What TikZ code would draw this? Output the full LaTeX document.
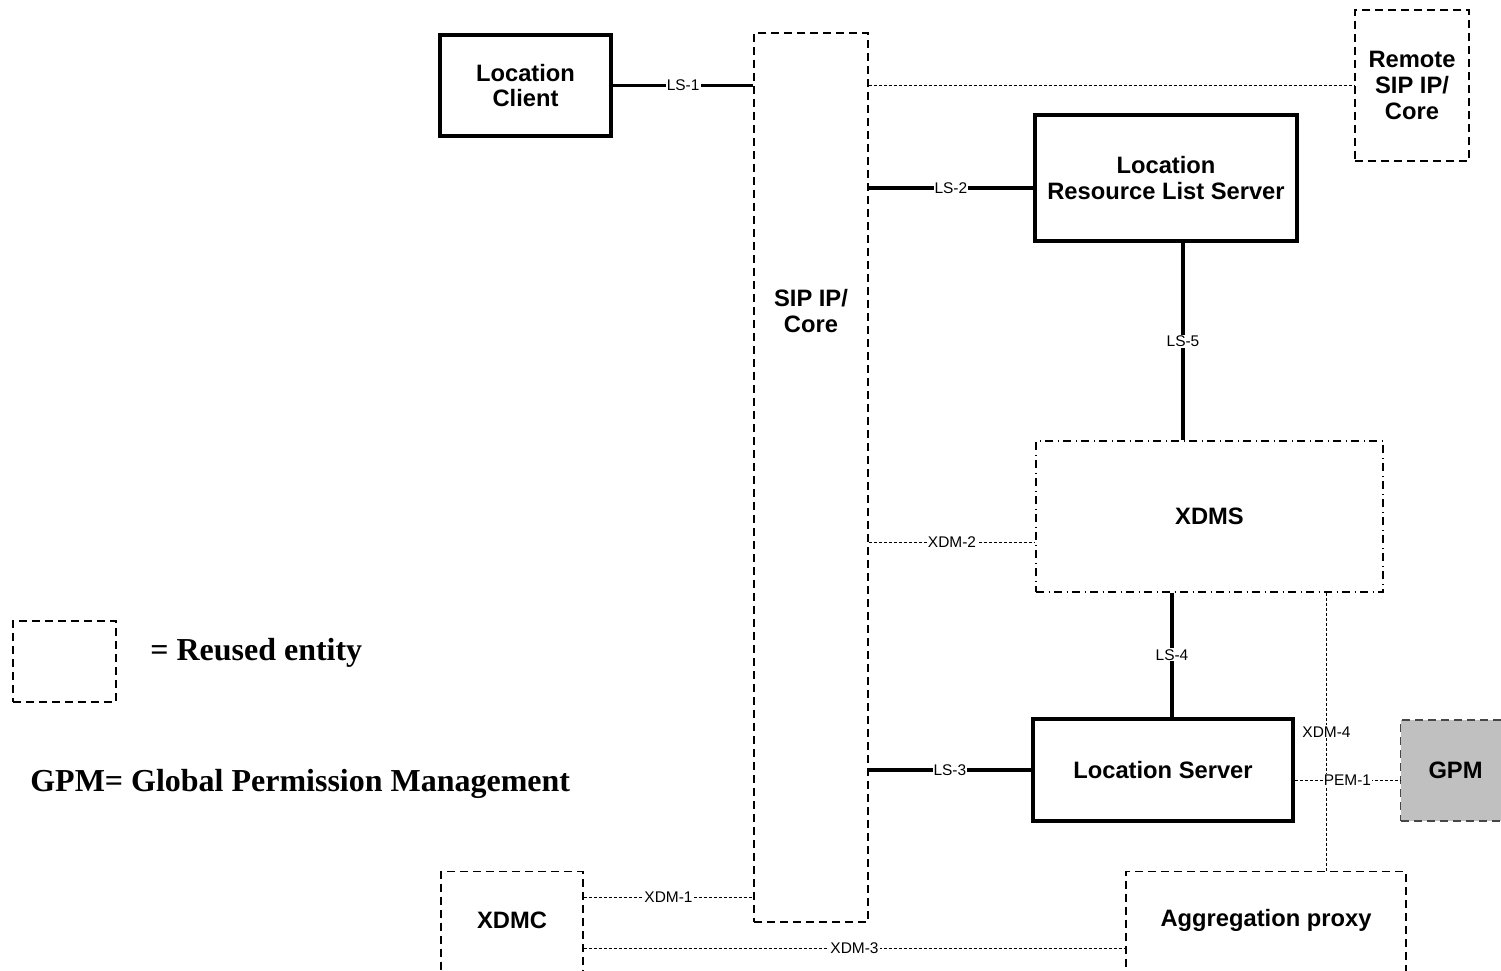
\documentclass[tikz,border=0pt]{standalone}
\usepackage{fontspec}
\setmainfont{Liberation Sans}
\newfontfamily\legendfont{Liberation Serif}
\usetikzlibrary{calc}
\definecolor{gpmGray}{RGB}{192,192,192}
\definecolor{edgeGray}{RGB}{70,70,70}

\begin{document}
\begin{tikzpicture}[
      x=0.2mm, y=-0.2mm,
      box/.style={rectangle, draw=black, line width=2pt, align=center, inner sep=0pt,
        font=\bfseries\fontsize{13.5}{14.7}\selectfont},
      reused/.style={box, line width=0.6pt, dash pattern=on 1.6mm off 1mm},
      xdmbox/.style={box, line width=0.6pt, dash pattern=on 1.6mm off 0.9mm on 0.2mm off 0.9mm},
      gpmbox/.style={reused, fill=gpmGray, draw=edgeGray},
      txt/.style={align=center, inner sep=0pt, font=\bfseries\fontsize{13.5}{14.7}\selectfont},
      link/.style={line width=2pt},
      ref/.style={line width=0.5pt, dash pattern=on 0.6mm off 0.4mm},
      lbl/.style={fill=white, inner sep=0.6pt, font=\fontsize{8.8}{10}\selectfont},
      legend/.style={anchor=west, inner sep=0pt, font=\legendfont\bfseries\fontsize{18.2}{22}\selectfont}
    ]
    \useasboundingbox (0,0) rectangle (1501,971);

    \node[box, minimum width=3.42cm, minimum height=2.02cm] (lc) at (525.5,85.5) {Location\\Client};
    \node[reused, minimum width=2.28cm, minimum height=17.78cm] (sip) at (811,477.5) {};
    \node[txt] (sipText) at (811,311) {SIP IP/\\Core};
    \node[reused, minimum width=2.28cm, minimum height=3.02cm] (remote) at (1412,85.5) {Remote\\SIP IP/\\Core};
    \node[box, minimum width=5.24cm, minimum height=2.52cm] (lrls) at (1166,178) {Location\\Resource List Server};
    \node[xdmbox, minimum width=6.94cm, minimum height=3.02cm] (xdms) at (1209.5,516.5) {XDMS};
    \node[box, minimum width=5.2cm, minimum height=2.04cm] (locsrv) at (1163,770) {Location Server};
    \node[gpmbox, anchor=west, minimum width=2.2cm, minimum height=2.02cm] (gpm) at (1400,770.5) {GPM};
    \node[reused, anchor=north, minimum width=2.84cm, minimum height=2.4cm] (xdmc) at (512,871) {};
    \node[txt] (xdmcText) at (512,920) {XDMC};
    \node[reused, anchor=north, minimum width=5.6cm, minimum height=2.4cm] (agg) at (1266,871) {};
    \node[txt] (aggText) at (1266,920) {Aggregation proxy};

    \node[reused, minimum width=2.06cm, minimum height=1.62cm] (key) at (64.5,661.5) {};
    \node[legend] (keyText) at (150,653) {= Reused entity};
    \node[legend] (gpmText) at (30,784) {GPM= Global Permission Management};

    \coordinate (ls2) at ($(lrls.west)+(0,10)$);
    \coordinate (ls5) at ($(lrls.south)+(17,0)$);
    \coordinate (xdm2) at ($(xdms.west)+(0,25.5)$);
    \coordinate (ls4) at ($(locsrv.north)+(9,0)$);
    \coordinate (pem1) at ($(locsrv.east)+(0,10)$);
    \coordinate (xdm4) at ($(xdms.south east)+(-57,0)$);
    \coordinate (xdm1) at ($(xdmc.north east)+(0,26)$);
    \coordinate (xdm3) at ($(xdmc.north east)+(0,77)$);

    \draw[link] (lc.east) -- (lc.east -| sip.west) node[lbl, midway] {LS-1};
    \draw[ref] (sip.east |- remote.west) -- (remote.west);
    \draw[link] (sip.east |- ls2) -- (ls2) node[lbl, midway] {LS-2};
    \draw[link] (ls5) -- (ls5 |- xdms.north) node[lbl, midway] {LS-5};
    \draw[ref] (sip.east |- xdm2) -- (xdm2) node[lbl, midway] {XDM-2};
    \draw[link] (ls4 |- xdms.south) -- (ls4) node[lbl, midway] {LS-4};
    \draw[link] (sip.east |- locsrv.west) -- (locsrv.west) node[lbl, midway] {LS-3};
    \draw[ref] (xdm4) -- (xdm4 |- agg.north) node[lbl, midway] {XDM-4};
    \draw[ref] (pem1) -- (pem1 -| gpm.west) node[lbl, midway] {PEM-1};
    \draw[ref] (xdm1) -- (xdm1 -| sip.west) node[lbl, midway] {XDM-1};
    \draw[ref] (xdm3) -- (xdm3 -| agg.west) node[lbl, midway] {XDM-3};
  \end{tikzpicture}
\end{document}
